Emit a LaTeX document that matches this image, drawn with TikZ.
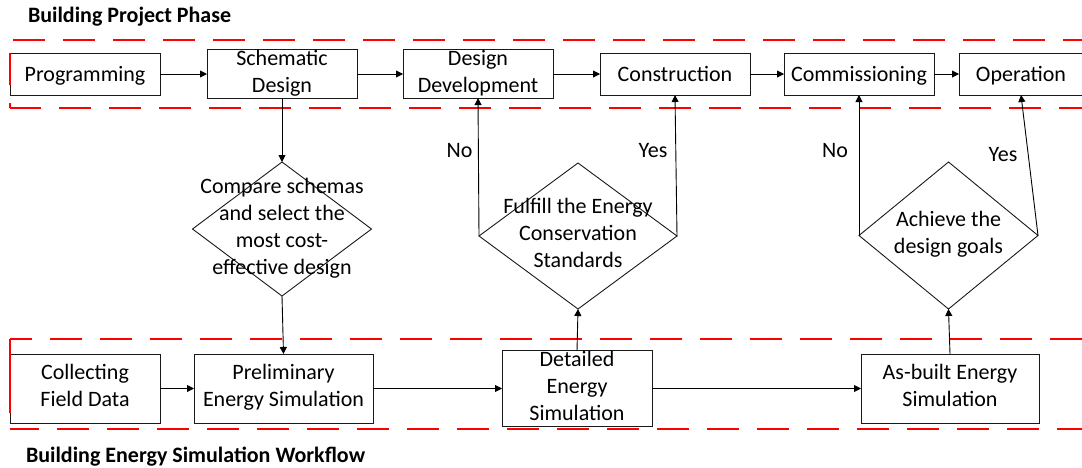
\documentclass[tikz,border=0pt]{standalone}
\usepackage{fontspec}
\setmainfont{Carlito}
\usetikzlibrary{shapes.geometric,arrows.meta}
% strut giving each text line a 27pt line box (21pt above, 6pt below the baseline)
\newcommand\wstrut{\rule[-6pt]{0pt}{27pt}}
\begin{document}
\begin{tikzpicture}[x=1pt,y=-1pt,
  every node/.style={font=\fontsize{22}{27}\selectfont, inner sep=0pt, outer sep=0pt},
  txt/.style={align=center, execute at begin node=\wstrut, execute at end node=\wstrut},
  stepbox/.style={txt, draw=black!90, line width=0.9pt, rectangle},
  toprow/.style={stepbox, minimum height=42pt},
  botrow/.style={stepbox, minimum height=69pt},
  decision/.style={draw=black!90, line width=0.9pt, diamond},
  flow/.style={draw=black, line width=0.9pt, -{Triangle[length=7pt,width=7pt]}},
  reddash/.style={draw=red, line width=2.2pt, dash pattern=on 32pt off 18pt},
  heading/.style={font=\fontsize{22}{26}\selectfont\bfseries, anchor=base west},
  answer/.style={anchor=base}
]
\useasboundingbox (0,0) rectangle (1082,467);
\begin{scope}
\clip (0,0) rectangle (1082,467);

% headings
\node[heading] (h1) at (28,22.5) {Building Project Phase};
\node[heading] (h2) at (26,462) {Building Energy Simulation Workflow};

% building project phase
\node[toprow, minimum width=150pt] (prog) at (85,74) {Programming};
\node[toprow, minimum width=150pt] (sch)  at (282,74) {Schematic\\Design};
\node[toprow, minimum width=150pt] (dd)   at (478,74) {Design\\Development};
\node[toprow, minimum width=150pt] (cons) at (675,74) {Construction};
\node[toprow, minimum width=150pt] (comm) at (859,74) {Commissioning};
\node[toprow, minimum width=124pt] (op)   at (1021,74) {Operation};

% energy simulation workflow
\node[botrow, minimum width=150pt] (coll) at (85,388.5) {Collecting\\Field Data};
\node[botrow, minimum width=179pt] (prel) at (283.5,388.5) {Preliminary\\Energy Simulation};
\node[botrow, minimum width=150pt] (det)  at (577,388.5) {Detailed\\Energy\\Simulation};
\node[botrow, minimum width=178pt] (asb)  at (950,388.5) {As-built Energy\\Simulation};

% decisions
\node[decision, minimum width=179pt, minimum height=134pt] (d1) at (282,229) {};
\node[txt] (d1t) at (d1.center) {Compare schemas\\and select the\\most cost-\\effective design};
\node[decision, minimum width=198pt, minimum height=146pt] (d2) at (578,236) {};
\node[txt] (d2t) at (d2.center) {Fulfill the Energy\\Conservation\\Standards};
\node[decision, minimum width=179pt, minimum height=147pt] (d3) at (948.5,235.5) {};
\node[txt] (d3t) at (d3.center) {Achieve the\\design goals};

% answers
\node[answer] (no1)  at (459.5,157) {No};
\node[answer] (yes1) at (653,157) {Yes};
\node[answer] (no2)  at (835,157) {No};
\node[answer] (yes2) at (1003,161) {Yes};

% dashed phase frames
\draw[reddash, dash phase=47pt] (10,40) -- (1100,40);
\draw[reddash, dash phase=1pt] (10,108) -- (1100,108);
\draw[reddash, dash phase=37pt] (10,40) -- (10,108);
\draw[reddash, dash phase=10pt] (10,339) -- (1100,339);
\draw[reddash, dash phase=3pt] (10,429) -- (1100,429);
\draw[draw=red, line width=2.2pt] (10,339) -- (10,413);

% connectors
\draw[flow] (prog.east) -- (sch.west);
\draw[flow] (sch.east) -- (dd.west);
\draw[flow] (dd.east) -- (cons.west);
\draw[flow] (cons.east) -- (comm.west);
\draw[flow] (comm.east) -- (op.west);

\draw[flow] (sch.south) -- (d1.north);
\draw[flow] (d1.south) -- (prel.north);

\draw[flow] (det.north) -- (d2.south);
\draw[flow] (d2.west) -- (dd.south);
\draw[flow] (d2.east) -- (cons.south);

\draw[flow] (asb.north) -- (d3.south);
\draw[flow] (d3.west) -- (comm.south);
\draw[flow] (d3.east) -- (op.south);

\draw[flow] (coll.east) -- (prel.west);
\draw[flow] (prel.east) -- (det.west);
\draw[flow] (det.east) -- (asb.west);
\end{scope}
\end{tikzpicture}
\end{document}
